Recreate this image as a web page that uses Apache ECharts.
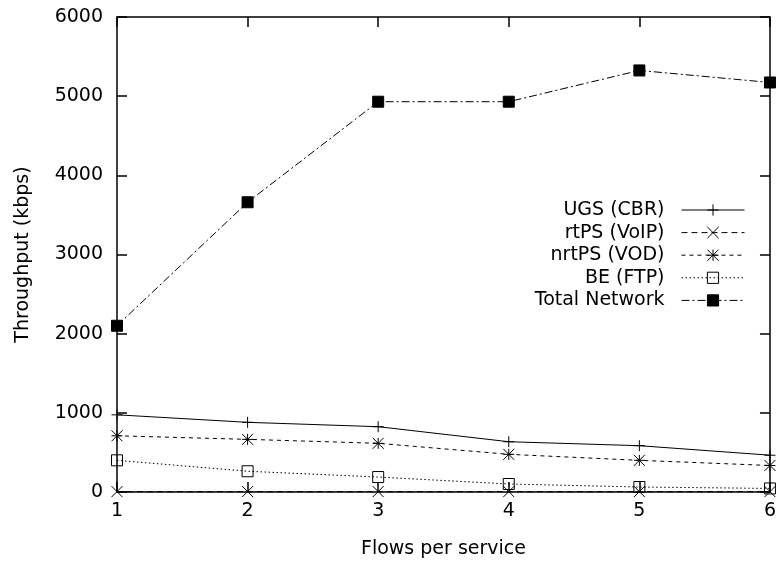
<!DOCTYPE html>
<html>
<head>
<meta charset="utf-8">
<script src="https://cdn.jsdelivr.net/npm/echarts@6/dist/echarts.min.js"></script>
<style>html,body{margin:0;padding:0;background:#fff}#c{width:779px;height:567px}</style>
</head>
<body>
<div id="c"></div>
<script>
var flows = [1, 2, 3, 4, 5, 6];
var ugs = [975, 880, 825, 635, 585, 465];
var rtps = [5, 5, 5, 5, 5, 5];
var nrtps = [710, 665, 615, 476, 400, 335];
var be = [400, 262, 189, 101, 63, 45];
var total = [2100, 3660, 4930, 4930, 5325, 5173];
var yTicks = [0, 1000, 2000, 3000, 4000, 5000, 6000];

var FONT = 'DejaVu Sans';
var FS = 19;
function pairs(v) { return flows.map(function (x, i) { return [x, v[i]]; }); }

var PLUS = 'path://M0,5L10,5M5,0L5,10';
var CROSS = 'path://M0,0L10,10M0,10L10,0';
var STAR = 'path://M0,5L10,5M5,0L5,10M0,0L10,10M0,10L10,0';
var SQ = 'path://M0,0L10,0L10,10L0,10Z';

function mk(name, data, symbol, dash, filled) {
  return {
    name: name, type: 'line', data: pairs(data), symbol: symbol,
    symbolSize: 11, clip: false, showAllSymbol: true,
    lineStyle: { color: '#000', width: 1, type: dash },
    itemStyle: filled ? { color: '#000', borderColor: '#000', borderWidth: 1 }
                      : { color: 'rgba(0,0,0,0)', borderColor: '#000', borderWidth: 1 },
    emphasis: { disabled: true }, animation: false
  };
}

var chart = echarts.init(document.getElementById('c'), null, { renderer: 'canvas' });
chart.setOption({
  backgroundColor: '#fff',
  animation: false,
  grid: { left: 117, right: 8, top: 17, bottom: 75, containLabel: false },
  legend: {
    orient: 'vertical', right: 34, top: 200, align: 'right', padding: 0,
    itemWidth: 63, itemHeight: 14, itemGap: 2.6,
    lineStyle: { width: 1 },
    itemStyle: { borderWidth: 1 },
    textStyle: { fontFamily: FONT, fontSize: FS, color: '#000', lineHeight: 20, padding: [0, 12, 0, 0] },
    data: ['UGS (CBR)', 'rtPS (VoIP)', 'nrtPS (VOD)', 'BE (FTP)', 'Total Network']
  },
  xAxis: [{
    type: 'value', min: 1, max: 6, interval: 1, position: 'bottom',
    name: 'Flows per service', nameLocation: 'middle', nameGap: 48,
    nameTextStyle: { fontFamily: FONT, fontSize: FS, color: '#000' },
    axisLine: { show: true, onZero: false, lineStyle: { color: '#000', width: 1.5 } },
    axisTick: { show: true, inside: true, length: 10, lineStyle: { color: '#000', width: 1.5 } },
    axisLabel: { fontFamily: FONT, fontSize: FS, color: '#000', margin: 10 },
    splitLine: { show: false }
  }, {
    type: 'value', min: 1, max: 6, interval: 1, position: 'top',
    axisLine: { show: true, onZero: false, lineStyle: { color: '#000', width: 1.5 } },
    axisTick: { show: true, inside: true, length: 10, lineStyle: { color: '#000', width: 1.5 } },
    axisLabel: { show: false }, splitLine: { show: false }
  }],
  yAxis: [{
    type: 'value', min: 0, max: 6000, interval: 1000, position: 'left',
    name: 'Throughput (kbps)', nameLocation: 'middle', nameGap: 84, nameRotate: 90,
    nameTextStyle: { fontFamily: FONT, fontSize: FS, color: '#000' },
    axisLine: { show: true, onZero: false, lineStyle: { color: '#000', width: 1.5 } },
    axisTick: { show: true, inside: true, length: 10, lineStyle: { color: '#000', width: 1.5 } },
    axisLabel: { fontFamily: FONT, fontSize: FS, color: '#000', margin: 14,
      formatter: function (v) { return yTicks.indexOf(v) >= 0 ? String(v) : ''; } },
    splitLine: { show: false }
  }, {
    type: 'value', min: 0, max: 6000, interval: 1000, position: 'right',
    axisLine: { show: true, onZero: false, lineStyle: { color: '#000', width: 1.5 } },
    axisTick: { show: true, inside: true, length: 10, lineStyle: { color: '#000', width: 1.5 } },
    axisLabel: { show: false }, splitLine: { show: false }
  }],
  series: [
    mk('UGS (CBR)', ugs, PLUS, 'solid', false),
    mk('rtPS (VoIP)', rtps, CROSS, [6, 4], false),
    mk('nrtPS (VOD)', nrtps, STAR, [4, 4], false),
    mk('BE (FTP)', be, SQ, [1.5, 2.5], false),
    mk('Total Network', total, SQ, [8, 3, 2, 3], true)
  ]
});
</script>
</body>
</html>
